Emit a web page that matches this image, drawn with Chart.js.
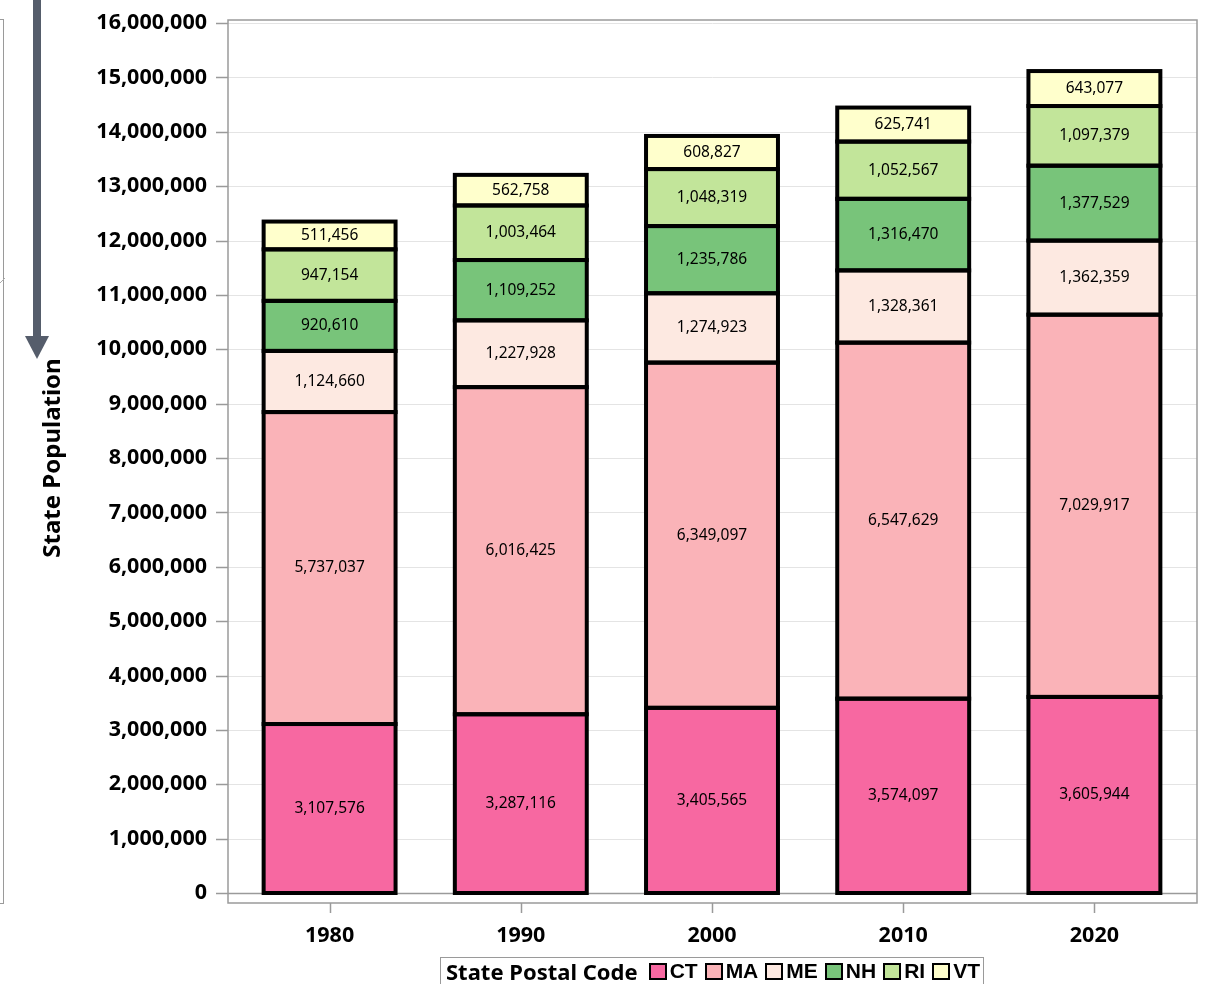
<!DOCTYPE html>
<html>
<head>
<meta charset="utf-8">
<script src="https://cdn.jsdelivr.net/npm/chart.js@4.4.1/dist/chart.umd.min.js"></script>
<style>
  html, body { margin: 0; padding: 0; background: #fff; }
  #wrap { position: relative; width: 1209px; height: 984px; overflow: hidden; }
  #c { position: absolute; left: 0; top: 0; }
  #leftbox { position: absolute; left: -2px; top: 19px; width: 5px; height: 883px; border: 1.5px solid #9a9a9a; border-left: none; }
  #legend { position: absolute; left: 440px; top: 957px; width: 544px; height: 32px; border: 1.5px solid #9a9a9a; border-bottom: none;
            display: flex; align-items: center; padding: 0 0 5px 5px; box-sizing: border-box; color: #000; white-space: nowrap; }
  #legend .ttl { font-family: "Noto Sans", sans-serif; font-weight: bold; font-size: 22px; margin-right: 11px; }
  #legend .it { display: flex; align-items: center; margin-right: 7px; font-family: "Liberation Sans", Arial, sans-serif; font-weight: bold; font-size: 21px; }
  #legend .sw { width: 14px; height: 13px; border: 2px solid #000; margin-right: 3px; }
</style>
</head>
<body>
<div id="wrap">
  <canvas id="c" width="1209" height="984"></canvas>
  <div id="leftbox"></div>
  <svg style="position:absolute;left:0;top:0" width="60" height="370">
    <line x1="0" y1="283" x2="5" y2="278" stroke="#aaa" stroke-width="1"/>
    <rect x="33" y="0" width="8" height="340" fill="#555d6b"/>
    <polygon points="25,336 49,336 37,359" fill="#555d6b"/>
  </svg>
  <div id="legend"></div>
</div>
<script>
const categories = ["1980", "1990", "2000", "2010", "2020"];
const states = ["CT", "MA", "ME", "NH", "RI", "VT"];
const CT = [3107576, 3287116, 3405565, 3574097, 3605944];
const MA = [5737037, 6016425, 6349097, 6547629, 7029917];
const ME = [1124660, 1227928, 1274923, 1328361, 1362359];
const NH = [920610, 1109252, 1235786, 1316470, 1377529];
const RI = [947154, 1003464, 1048319, 1052567, 1097379];
const VT = [511456, 562758, 608827, 625741, 643077];
const seriesValues = [CT, MA, ME, NH, RI, VT];
const colors = ["#f768a1", "#fab3b8", "#fde9e1", "#78c47a", "#c2e59a", "#ffffcc"];
const yMax = 16000000;
const yStep = 1000000;

const fmt = v => v.toLocaleString("en-US");
const FONT = "'Noto Sans', sans-serif";

const lg = document.getElementById("legend");
lg.innerHTML = '<span class="ttl">State Postal Code</span>' +
  states.map((s, i) => `<span class="it"><span class="sw" style="background:${colors[i]}"></span>${s}</span>`).join("");

const frame = {
  id: "frame",
  beforeDatasetsDraw(chart) {
    const { ctx, chartArea: a, scales: { x, y } } = chart;
    const L = a.left - 6, R = a.right + 7, T = a.top - 3, B = a.bottom + 10;
    ctx.save();
    ctx.strokeStyle = "#e4e4e4";
    ctx.lineWidth = 1;
    for (let v = yStep; v <= yMax; v += yStep) {
      const py = Math.round(y.getPixelForValue(v)) + 0.5;
      ctx.beginPath(); ctx.moveTo(L, py); ctx.lineTo(R, py); ctx.stroke();
    }
    ctx.strokeStyle = "#9a9a9a";
    ctx.lineWidth = 1.5;
    const zy = Math.round(y.getPixelForValue(0)) + 0.5;
    ctx.beginPath(); ctx.moveTo(L, zy); ctx.lineTo(R, zy); ctx.stroke();
    ctx.strokeRect(L, T, R - L, B - T);
    for (let v = 0; v <= yMax; v += yStep) {
      const py = Math.round(y.getPixelForValue(v)) + 0.5;
      ctx.beginPath(); ctx.moveTo(L - 12, py); ctx.lineTo(L, py); ctx.stroke();
    }
    categories.forEach((c, i) => {
      const px = Math.round(x.getPixelForValue(i)) + 0.5;
      ctx.beginPath(); ctx.moveTo(px, B); ctx.lineTo(px, B + 10); ctx.stroke();
    });
    ctx.restore();
  },
  afterDatasetsDraw(chart) {
    const { ctx } = chart;
    ctx.save();
    ctx.strokeStyle = "#000";
    ctx.lineWidth = 4;
    chart.data.datasets.forEach((ds, di) => {
      chart.getDatasetMeta(di).data.forEach((el) => {
        const p = el.getProps(["x", "y", "base", "width"], true);
        ctx.strokeRect(p.x - p.width / 2, p.y, p.width, p.base - p.y);
      });
    });
    ctx.font = "15.5px " + FONT;
    ctx.fillStyle = "#000";
    ctx.textAlign = "center";
    ctx.textBaseline = "middle";
    chart.data.datasets.forEach((ds, di) => {
      chart.getDatasetMeta(di).data.forEach((el, i) => {
        const p = el.getProps(["x", "y", "base"], true);
        ctx.fillText(fmt(ds.data[i]), p.x, (p.y + p.base) / 2);
      });
    });
    ctx.restore();
  }
};

new Chart(document.getElementById("c"), {
  type: "bar",
  data: {
    labels: categories,
    datasets: states.map((s, i) => ({
      label: s,
      data: seriesValues[i],
      backgroundColor: colors[i],
      borderWidth: 0,
      barPercentage: 0.69,
      categoryPercentage: 1.0
    }))
  },
  options: {
    responsive: false,
    animation: false,
    devicePixelRatio: 1,
    layout: { padding: { left: 0, right: 19, top: 23, bottom: 0 } },
    plugins: { legend: { display: false }, tooltip: { enabled: false } },
    scales: {
      x: {
        stacked: true,
        grid: { display: false, drawTicks: false },
        border: { display: false },
        ticks: { color: "#000", font: { family: FONT, size: 21.5, weight: "bold" }, padding: 30 },
        afterFit(s) { s.height = 91; s.paddingLeft = 0; s.paddingRight = 0; }
      },
      y: {
        stacked: true,
        min: 0, max: yMax,
        grid: { display: false, drawTicks: false },
        border: { display: false },
        ticks: {
          stepSize: yStep, color: "#000", padding: 27,
          font: { family: FONT, size: 21.5, weight: "bold" },
          callback: v => fmt(v)
        },
        title: { display: true, text: "State Population", color: "#000",
                 font: { family: FONT, size: 24, weight: "bold" }, padding: { top: 39, bottom: 0 } },
        afterFit(s) { s.width = 234; s.paddingTop = 0; s.paddingBottom = 0; }
      }
    }
  },
  plugins: [frame]
});
</script>
</body>
</html>
